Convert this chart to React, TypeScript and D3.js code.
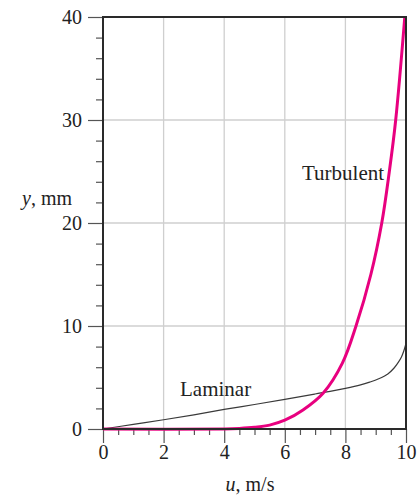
import * as d3 from 'd3';
import React, { useEffect, useRef } from 'react';

// velocity profiles: u in m/s, y in mm
const laminarU = [0, 1, 2, 3, 4, 5, 6, 7, 8, 8.5, 8.8, 9.1, 9.4, 9.6, 9.75, 9.85, 9.93, 10];
const laminarY = [0, 0.45, 0.9, 1.38, 1.9, 2.38, 2.87, 3.4, 3.95, 4.28, 4.55, 4.88, 5.35, 5.9, 6.5, 7.0, 7.6, 8.3];

const turbulentU = [0, 4, 4.5, 5, 5.5, 6, 6.6, 7.27, 7.9, 8.35, 8.84, 9.2, 9.45, 9.66, 9.96];
const turbulentY = [0, 0, 0.05, 0.16, 0.38, 0.85, 1.85, 3.5, 6.4, 10, 15, 20, 25, 30, 40];

const xTicks = [0, 2, 4, 6, 8, 10];
const yTicks = [0, 10, 20, 30, 40];

const W = 420;
const H = 498;
const margin = { top: 17, right: 14, bottom: 69, left: 103 };
const FONT = '"Liberation Serif", "Times New Roman", serif';

export default function App() {
  const svgRef = useRef<SVGSVGElement>(null);

  useEffect(() => {
    const svg = d3.select(svgRef.current);
    svg.selectAll('*').remove();

    const x = d3.scaleLinear().domain([0, 10]).range([margin.left, W - margin.right]);
    const y = d3.scaleLinear().domain([0, 40]).range([H - margin.bottom, margin.top]);
    const [x0, x1] = x.range();
    const [y0, y1] = y.range();

    // grid
    const grid = svg.append('g').attr('stroke', '#cfcfcf').attr('stroke-width', 1.3);
    grid
      .selectAll('.gx')
      .data([2, 4, 6, 8])
      .join('line')
      .attr('x1', (d) => x(d))
      .attr('x2', (d) => x(d))
      .attr('y1', y1)
      .attr('y2', y0);
    grid
      .selectAll('.gy')
      .data([10, 20, 30])
      .join('line')
      .attr('y1', (d) => y(d))
      .attr('y2', (d) => y(d))
      .attr('x1', x0)
      .attr('x2', x1);

    // minor ticks
    const minorX = d3.range(0.5, 10, 0.5).filter((v) => v % 2 !== 0);
    const minorY = d3.range(2, 40, 2).filter((v) => v % 10 !== 0);

    const xMinor = svg
      .append('g')
      .attr('transform', `translate(0,${y0})`)
      .call(d3.axisBottom(x).tickValues(minorX).tickSize(6).tickFormat(() => ''));
    const yMinor = svg
      .append('g')
      .attr('transform', `translate(${x0},0)`)
      .call(d3.axisLeft(y).tickValues(minorY).tickSize(7).tickFormat(() => ''));

    const xAxis = svg
      .append('g')
      .attr('transform', `translate(0,${y0})`)
      .call(d3.axisBottom(x).tickValues(xTicks).tickSize(14).tickPadding(2).tickFormat(d3.format('d')));
    const yAxis = svg
      .append('g')
      .attr('transform', `translate(${x0},0)`)
      .call(d3.axisLeft(y).tickValues(yTicks).tickSize(15).tickPadding(6).tickFormat(d3.format('d')));

    [xMinor, yMinor, xAxis, yAxis].forEach((g) => {
      g.select('.domain').remove();
      g.selectAll('line').attr('stroke', '#555').attr('stroke-width', 1.2);
      g.selectAll('text').attr('font-family', FONT).attr('font-size', 20).attr('fill', '#222');
    });

    // curves
    const line = d3
      .line<[number, number]>()
      .x((d) => x(d[0]))
      .y((d) => y(d[1]))
      .curve(d3.curveCatmullRom.alpha(0.5));

    svg
      .append('path')
      .attr('d', line(laminarU.map((u, i) => [u, laminarY[i]])))
      .attr('fill', 'none')
      .attr('stroke', '#3a3a3a')
      .attr('stroke-width', 1.2);

    svg
      .append('path')
      .attr('d', line(turbulentU.map((u, i) => [u, turbulentY[i]])))
      .attr('fill', 'none')
      .attr('stroke', '#e8007f')
      .attr('stroke-width', 3);

    // frame
    svg
      .append('rect')
      .attr('x', x0)
      .attr('y', y1)
      .attr('width', x1 - x0)
      .attr('height', y0 - y1)
      .attr('fill', 'none')
      .attr('stroke', '#2a2a2a')
      .attr('stroke-width', 2);

    const labels = svg.append('g').attr('font-family', FONT).attr('font-size', 21).attr('fill', '#222');
    labels.append('text').attr('x', 302).attr('y', 180).text('Turbulent');
    labels.append('text').attr('x', 180).attr('y', 396).text('Laminar');

    const yl = labels.append('text').attr('x', 72).attr('y', 205).attr('text-anchor', 'end').attr('font-size', 20);
    yl.append('tspan').attr('font-style', 'italic').text('y');
    yl.append('tspan').text(', mm');

    const xl = labels.append('text').attr('x', 250).attr('y', 491).attr('text-anchor', 'middle').attr('font-size', 20);
    xl.append('tspan').attr('font-style', 'italic').text('u');
    xl.append('tspan').text(', m/s');
  }, []);

  return (
    <svg
      ref={svgRef}
      width={W}
      height={H}
      style={{ position: 'absolute', left: 0, top: 0, background: '#fff' }}
    />
  );
}
